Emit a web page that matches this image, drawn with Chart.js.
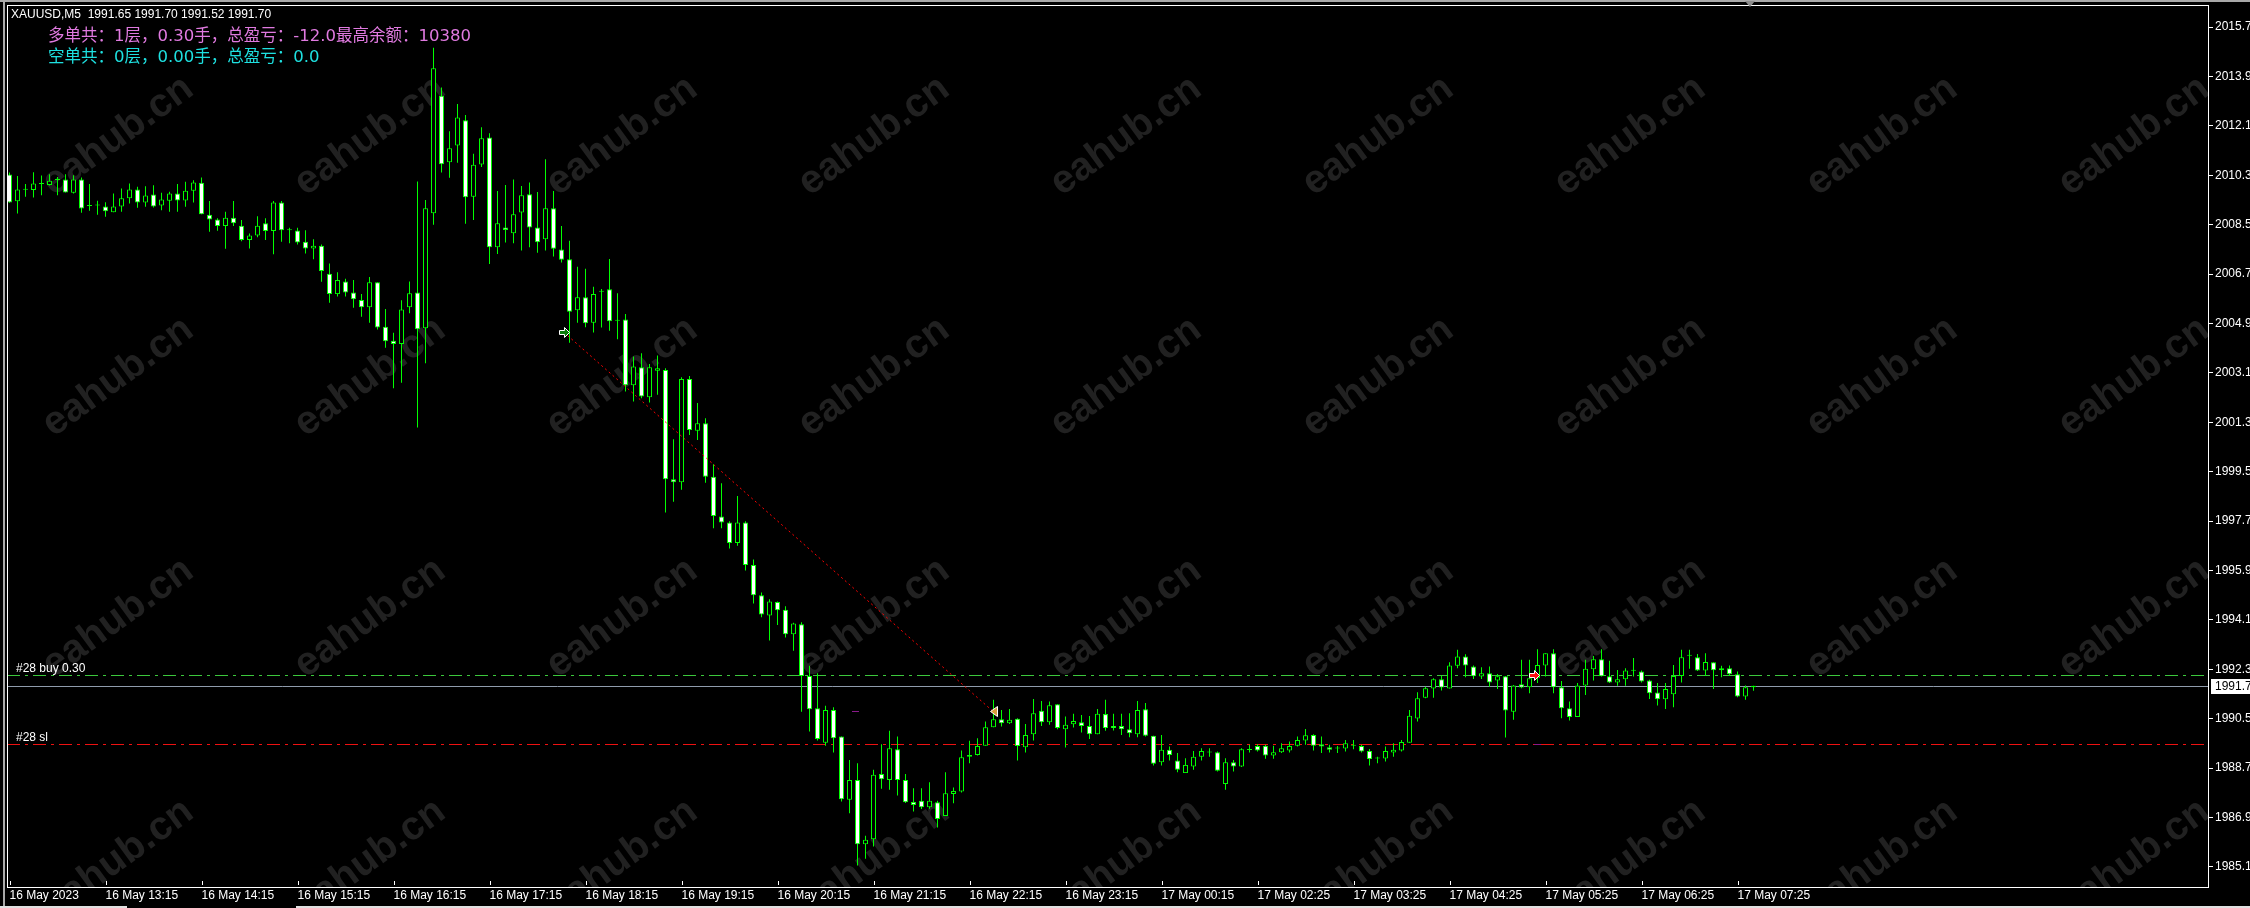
<!DOCTYPE html>
<html>
<head>
<meta charset="utf-8">
<title>XAUUSD,M5</title>
<script src="https://cdn.jsdelivr.net/npm/chart.js@4.4.0/dist/chart.umd.min.js"></script>
<style>
  html, body { margin: 0; padding: 0; background: #000; overflow: hidden; }
  canvas { display: block; }
</style>
</head>
<body>
<canvas id="xauChart" width="2250" height="908"></canvas>
<script>
// XAUUSD M5 bars (bar 0 = 16 May 12:15)
const opens = [
  2010.33, 2009.35, 2009.77, 2009.76, 2009.98, 2009.95, 2010.13, 2010.15, 2009.66, 2010.15, 2009.18, 2009.20,
  2009.16, 2008.95, 2009.16, 2009.46, 2009.78, 2009.31, 2009.60, 2009.20, 2009.37, 2009.64, 2009.38, 2009.74,
  2010.03, 2008.86, 2008.69, 2008.45, 2008.75, 2008.46, 2007.94, 2008.11, 2008.55, 2008.27, 2009.31, 2008.30,
  2008.29, 2007.88, 2007.63, 2007.73, 2006.71, 2005.97, 2006.43, 2006.03, 2005.76, 2005.49, 2006.40, 2004.78,
  2004.27, 2004.15, 2005.49, 2006.03, 2004.73, 2008.92, 2013.20, 2010.77, 2011.38, 2012.30, 2009.52, 2010.69,
  2011.68, 2007.68, 2008.40, 2008.19, 2008.94, 2009.61, 2008.40, 2007.97, 2009.10, 2007.60, 2007.24, 2005.38,
  2005.86, 2004.93, 2006.06, 2006.15, 2005.00, 2005.05, 2002.65, 2003.31, 2002.21, 2003.18, 2003.21, 1999.23,
  1999.12, 2002.88, 2000.99, 2001.27, 1999.32, 1997.87, 1997.65, 1996.90, 1997.65, 1996.10, 1995.00, 1994.26,
  1994.75, 1994.47, 1993.58, 1993.94, 1992.06, 1990.88, 1989.63, 1990.82, 1989.85, 1987.55, 1988.27, 1985.93,
  1986.11, 1988.49, 1988.27, 1989.39, 1988.27, 1987.47, 1987.51, 1987.28, 1987.46, 1986.96, 1987.76, 1987.85,
  1989.12, 1989.18, 1989.52, 1990.19, 1990.48, 1990.34, 1990.50, 1989.46, 1989.94, 1990.79, 1990.37, 1991.03,
  1990.12, 1990.30, 1990.37, 1990.24, 1989.94, 1990.67, 1990.24, 1990.24, 1990.12, 1989.94, 1990.85, 1989.88,
  1988.92, 1989.37, 1988.98, 1988.52, 1988.76, 1989.12, 1989.27, 1989.28, 1988.12, 1988.92, 1988.76, 1989.36,
  1989.51, 1989.52, 1989.16, 1989.28, 1989.34, 1989.52, 1989.71, 1989.91, 1989.57, 1989.46, 1989.42, 1989.42,
  1989.52, 1989.51, 1989.33, 1989.05, 1989.05, 1989.27, 1989.34, 1989.63, 1990.51, 1991.27, 1991.60, 1991.94,
  1991.60, 1992.43, 1992.77, 1992.40, 1992.04, 1992.16, 1991.89, 1992.05, 1990.76, 1991.76, 1991.65, 1991.98,
  1992.44, 1992.89, 1991.65, 1990.88, 1990.56, 1991.71, 1992.30, 1992.67, 1992.05, 1991.82, 1991.94, 1992.25,
  1992.22, 1991.89, 1991.46, 1991.21, 1991.39, 1992.06, 1992.80, 1992.74, 1992.26, 1992.56, 1992.34, 1992.34,
  1992.12, 1991.31, 1991.65
];
const highs = [
  2010.40, 2010.27, 2009.98, 2010.41, 2010.29, 2010.34, 2010.24, 2010.34, 2010.30, 2010.22, 2009.98, 2009.37,
  2009.32, 2009.64, 2009.82, 2010.00, 2009.88, 2009.90, 2009.94, 2009.66, 2009.70, 2009.98, 2010.06, 2010.12,
  2010.22, 2009.36, 2008.73, 2008.97, 2009.36, 2008.67, 2008.18, 2008.81, 2008.73, 2009.36, 2009.36, 2008.39,
  2008.39, 2008.30, 2007.97, 2007.78, 2007.09, 2006.77, 2006.53, 2006.48, 2005.97, 2006.59, 2006.40, 2005.43,
  2004.56, 2005.75, 2006.43, 2010.07, 2009.40, 2014.95, 2013.50, 2011.90, 2012.90, 2012.50, 2011.08, 2012.05,
  2011.83, 2009.73, 2009.95, 2010.15, 2009.91, 2010.04, 2009.69, 2010.88, 2009.73, 2008.45, 2007.91, 2006.97,
  2006.89, 2006.24, 2006.16, 2007.25, 2006.00, 2005.25, 2003.70, 2003.82, 2003.42, 2003.73, 2003.27, 2000.68,
  2002.94, 2002.99, 2002.00, 2001.45, 1999.77, 1999.08, 1997.70, 1998.62, 1997.70, 1996.30, 1995.10, 1994.85,
  1994.77, 1994.60, 1994.00, 1994.02, 1992.43, 1992.16, 1990.97, 1990.92, 1989.85, 1989.00, 1988.88, 1986.24,
  1988.64, 1989.57, 1990.06, 1989.85, 1988.49, 1987.97, 1987.97, 1988.19, 1987.51, 1988.55, 1988.00, 1989.34,
  1989.70, 1989.79, 1990.40, 1991.19, 1990.82, 1990.86, 1990.52, 1990.31, 1991.22, 1991.15, 1991.13, 1991.03,
  1990.58, 1990.68, 1990.64, 1990.60, 1990.86, 1991.19, 1990.68, 1990.68, 1990.70, 1991.15, 1991.07, 1989.88,
  1989.91, 1989.49, 1989.25, 1989.06, 1989.33, 1989.43, 1989.43, 1989.31, 1989.06, 1989.00, 1989.43, 1989.55,
  1989.57, 1989.55, 1989.52, 1989.61, 1989.67, 1989.85, 1990.13, 1989.94, 1989.85, 1989.55, 1989.51, 1989.73,
  1989.73, 1989.55, 1989.40, 1989.12, 1989.49, 1989.61, 1989.73, 1990.82, 1991.47, 1991.67, 1991.98, 1992.06,
  1992.56, 1993.01, 1992.85, 1992.44, 1992.38, 1992.40, 1992.13, 1992.06, 1991.73, 1992.65, 1992.65, 1993.03,
  1992.89, 1993.03, 1991.88, 1991.13, 1991.80, 1992.65, 1992.79, 1993.03, 1992.61, 1992.28, 1992.34, 1992.71,
  1992.26, 1991.92, 1991.80, 1991.80, 1992.46, 1993.01, 1993.01, 1992.86, 1992.89, 1992.56, 1992.43, 1992.44,
  1992.22, 1991.71, 1991.70
];
const lows = [
  2009.30, 2008.91, 2009.52, 2009.49, 2009.57, 2009.93, 2009.57, 2009.67, 2009.64, 2008.93, 2009.01, 2008.86,
  2008.79, 2008.95, 2008.97, 2009.27, 2009.12, 2009.15, 2009.13, 2009.03, 2008.97, 2008.97, 2009.15, 2009.31,
  2008.88, 2008.24, 2008.28, 2007.62, 2008.45, 2007.90, 2007.63, 2008.04, 2007.94, 2007.42, 2007.88, 2007.82,
  2007.78, 2007.45, 2007.24, 2006.42, 2005.66, 2005.88, 2005.88, 2005.47, 2005.15, 2004.93, 2004.68, 2004.02,
  2002.54, 2002.74, 2005.27, 2001.11, 2003.45, 2008.50, 2010.40, 2010.21, 2010.76, 2008.53, 2008.67, 2010.60,
  2007.07, 2007.43, 2007.85, 2007.82, 2007.56, 2007.68, 2007.48, 2007.56, 2007.34, 2007.12, 2004.20, 2004.93,
  2004.76, 2004.57, 2004.75, 2004.64, 2004.33, 2002.42, 2002.06, 2002.18, 2002.02, 2002.30, 1998.01, 1998.41,
  1998.84, 2000.84, 2000.66, 1999.10, 1997.44, 1997.44, 1996.70, 1996.80, 1995.90, 1994.70, 1994.20, 1993.35,
  1993.92, 1993.46, 1992.98, 1990.76, 1990.04, 1989.71, 1989.52, 1989.27, 1987.49, 1987.06, 1985.15, 1985.40,
  1985.85, 1987.95, 1987.91, 1987.70, 1987.43, 1987.12, 1987.21, 1987.22, 1986.54, 1986.96, 1987.42, 1987.81,
  1988.88, 1989.16, 1989.52, 1990.19, 1990.22, 1990.31, 1988.98, 1989.27, 1989.71, 1990.24, 1990.28, 1990.12,
  1989.45, 1990.18, 1990.00, 1989.76, 1989.94, 1990.06, 1990.07, 1989.91, 1989.83, 1989.83, 1989.85, 1988.80,
  1988.80, 1988.98, 1988.55, 1988.52, 1988.64, 1988.98, 1989.12, 1988.58, 1987.91, 1988.58, 1988.74, 1989.27,
  1989.31, 1989.04, 1989.04, 1989.25, 1989.27, 1989.49, 1989.55, 1989.34, 1989.25, 1989.27, 1989.25, 1989.31,
  1989.39, 1989.27, 1988.80, 1988.88, 1988.94, 1989.12, 1989.31, 1989.63, 1990.40, 1991.25, 1991.27, 1991.53,
  1991.60, 1992.34, 1992.01, 1991.95, 1991.95, 1991.67, 1991.58, 1989.82, 1990.46, 1991.61, 1991.43, 1991.80,
  1992.04, 1991.43, 1990.52, 1990.44, 1990.56, 1991.37, 1991.89, 1992.04, 1991.80, 1991.70, 1991.70, 1992.04,
  1991.82, 1991.22, 1990.98, 1990.86, 1990.92, 1991.82, 1992.32, 1992.24, 1992.06, 1991.58, 1992.01, 1992.06,
  1991.28, 1991.19, 1991.52
];
const closes = [
  2009.31, 2009.78, 2009.77, 2010.00, 2010.00, 2010.10, 2010.13, 2009.67, 2010.15, 2009.09, 2009.18, 2009.20,
  2008.99, 2009.16, 2009.46, 2009.78, 2009.31, 2009.56, 2009.16, 2009.42, 2009.64, 2009.38, 2009.74, 2010.04,
  2008.88, 2008.69, 2008.45, 2008.75, 2008.55, 2007.94, 2008.11, 2008.46, 2008.27, 2009.31, 2008.30, 2008.30,
  2007.85, 2007.63, 2007.73, 2006.81, 2005.97, 2006.48, 2006.03, 2005.78, 2005.49, 2006.40, 2004.75, 2004.25,
  2004.15, 2005.41, 2006.00, 2004.69, 2009.10, 2014.20, 2010.70, 2011.28, 2012.40, 2009.50, 2010.68, 2011.65,
  2007.68, 2008.55, 2008.31, 2008.88, 2009.57, 2008.40, 2007.86, 2009.10, 2007.62, 2007.22, 2005.33, 2005.86,
  2004.91, 2005.97, 2006.06, 2004.98, 2005.00, 2002.65, 2003.33, 2002.24, 2003.31, 2003.27, 1999.23, 1999.12,
  2002.88, 2001.02, 2001.27, 1999.32, 1997.89, 1997.65, 1996.90, 1997.65, 1996.10, 1995.00, 1994.30, 1994.77,
  1994.45, 1993.58, 1993.97, 1992.06, 1990.85, 1989.76, 1990.82, 1989.79, 1987.57, 1988.27, 1985.93, 1986.09,
  1988.46, 1988.30, 1989.43, 1988.27, 1987.46, 1987.36, 1987.28, 1987.51, 1986.85, 1987.79, 1987.87, 1989.10,
  1989.18, 1989.51, 1990.19, 1990.48, 1990.34, 1990.46, 1989.51, 1989.91, 1990.70, 1990.37, 1990.99, 1990.16,
  1990.28, 1990.42, 1990.24, 1989.94, 1990.68, 1990.16, 1990.16, 1990.12, 1989.97, 1990.82, 1989.88, 1988.86,
  1989.37, 1989.18, 1988.64, 1988.82, 1989.12, 1989.33, 1989.28, 1988.61, 1988.92, 1988.76, 1989.39, 1989.36,
  1989.34, 1989.16, 1989.28, 1989.43, 1989.51, 1989.73, 1989.90, 1989.52, 1989.49, 1989.37, 1989.42, 1989.61,
  1989.52, 1989.31, 1989.03, 1989.05, 1989.33, 1989.37, 1989.65, 1990.61, 1991.25, 1991.61, 1991.94, 1991.64,
  1992.44, 1992.77, 1992.44, 1992.05, 1992.16, 1991.82, 1992.05, 1990.80, 1991.71, 1991.64, 1991.98, 1992.46,
  1992.89, 1991.65, 1990.88, 1990.56, 1991.71, 1992.32, 1992.67, 1992.05, 1991.82, 1991.94, 1992.26, 1992.25,
  1991.86, 1991.43, 1991.21, 1991.58, 1992.06, 1992.74, 1992.80, 1992.26, 1992.57, 1992.27, 1992.27, 1992.12,
  1991.31, 1991.65, 1991.70
];

// time axis: one label every 12 bars
const timeTickIdx = [0, 12, 24, 36, 48, 60, 72, 84, 96, 108, 120, 132, 144, 156, 168, 180, 192, 204, 216];
const timeLabels = ['16 May 2023', '16 May 13:15', '16 May 14:15', '16 May 15:15', '16 May 16:15',
  '16 May 17:15', '16 May 18:15', '16 May 19:15', '16 May 20:15', '16 May 21:15', '16 May 22:15',
  '16 May 23:15', '17 May 00:15', '17 May 02:25', '17 May 03:25', '17 May 04:25', '17 May 05:25',
  '17 May 06:25', '17 May 07:25'];
const priceTicks = [1985.10, 1986.90, 1988.70, 1990.50, 1992.30, 1994.10, 1995.90, 1997.70, 1999.50,
  2001.30, 2003.10, 2004.90, 2006.70, 2008.50, 2010.30, 2012.10, 2013.90, 2015.70];

// order levels and trade marks
const buyLevel = 1992.08;
const slLevel = 1989.57;
const bidPrice = closes[closes.length - 1];
const tradeLineX = [69.3, 122.9];
const tradeLineY = [2004.58, 1990.78];
const openArrowX = [190.5];
const openArrowY = [1992.09];
const stubX = [105.7, 190.9];
const stubY = [1990.78, 1989.57];

const FONT = '"Liberation Sans", Arial, sans-serif';
const INFO_FONT = '16.5px "DejaVu Sans", "Noto Sans CJK SC", sans-serif';
const CANDLE = '#00ff00';

const wickData = opens.map((o, i) => ({x: i, y: [lows[i], highs[i]]}));
const bodyData = opens.map((o, i) => ({x: i, y: [Math.min(o, closes[i]), Math.max(o, closes[i])]}));
const bodyFill = opens.map((o, i) => closes[i] < o ? '#ffffff' : '#000000');

function hline(ctx, area, py, color, dash) {
    const yy = Math.round(py) + 0.5;
    ctx.save();
    ctx.strokeStyle = color;
    ctx.lineWidth = 1;
    ctx.setLineDash(dash);
    ctx.beginPath();
    ctx.moveTo(area.left, yy);
    ctx.lineTo(area.right, yy);
    ctx.stroke();
    ctx.restore();
}

function arrowRight(ctx, px, py, fill) {
    ctx.save();
    ctx.translate(Math.round(px) + 0.5, Math.round(py) + 0.5);
    ctx.beginPath();
    ctx.moveTo(-5, -2); ctx.lineTo(0, -2); ctx.lineTo(0, -5); ctx.lineTo(5, 0);
    ctx.lineTo(0, 5); ctx.lineTo(0, 2); ctx.lineTo(-5, 2); ctx.closePath();
    ctx.fillStyle = fill; ctx.fill();
    ctx.strokeStyle = '#ffffff'; ctx.lineWidth = 1; ctx.stroke();
    ctx.restore();
}

const mtDecor = {
    id: 'mtDecor',
    beforeDraw(chart) {
        const ctx = chart.ctx;
        ctx.save();
        ctx.fillStyle = '#000';
        ctx.fillRect(0, 0, chart.width, chart.height);
        ctx.restore();
    },
    beforeDatasetsDraw(chart) {
        const {ctx, chartArea: a, scales: {y}} = chart;
        ctx.save();
        ctx.beginPath();
        ctx.rect(a.left, a.top, a.width, a.height);
        ctx.clip();
        // watermark grid
        ctx.fillStyle = '#212121';
        ctx.font = 'bold 40px ' + FONT;
        ctx.textAlign = 'center';
        ctx.textBaseline = 'middle';
        for (let r = 0; r < 4; r++) {
            for (let c = 0; c < 9; c++) {
                ctx.save();
                ctx.translate(118 + 252 * c, 136 + 241 * r);
                ctx.rotate(-36 * Math.PI / 180);
                ctx.fillText('eahub.cn', 0, 0);
                ctx.restore();
            }
        }
        hline(ctx, a, y.getPixelForValue(bidPrice), '#8f9bab', []);
        hline(ctx, a, y.getPixelForValue(buyLevel), '#3cc83c', [13, 5, 3, 5]);
        hline(ctx, a, y.getPixelForValue(slLevel), '#ee1111', [13, 5, 3, 5]);
        ctx.restore();
    },
    afterDatasetsDraw(chart) {
        const {ctx, scales: {x, y}} = chart;
        ctx.save();
        // small order stubs
        ctx.fillStyle = '#8a1a8a';
        stubX.forEach((v, k) => {
            ctx.fillRect(Math.round(x.getPixelForValue(v)) - 3, Math.round(y.getPixelForValue(stubY[k])), 7, 1);
        });
        // open of the closed trade and its close marker
        arrowRight(ctx, x.getPixelForValue(tradeLineX[0]), y.getPixelForValue(tradeLineY[0]), '#0a7a0a');
        const cx = Math.round(x.getPixelForValue(tradeLineX[1])) + 0.5;
        const cy = Math.round(y.getPixelForValue(tradeLineY[1])) + 0.5;
        ctx.beginPath();
        ctx.moveTo(cx + 4, cy - 5); ctx.lineTo(cx - 3, cy); ctx.lineTo(cx + 4, cy + 5); ctx.closePath();
        ctx.fillStyle = '#d89a3a'; ctx.fill();
        ctx.strokeStyle = '#ffffff'; ctx.stroke();
        // open of order #28
        openArrowX.forEach((v, k) => arrowRight(ctx, x.getPixelForValue(v), y.getPixelForValue(openArrowY[k]), '#ff1010'));
        ctx.restore();
    },
    afterDraw(chart) {
        const {ctx, chartArea: a, scales: {x, y}} = chart;
        ctx.save();
        // window frame
        ctx.fillStyle = '#a8a8a8';
        ctx.fillRect(0, 0, chart.width, 2);
        ctx.fillRect(3, 0, 2, chart.height);
        ctx.fillStyle = '#e0e0e0';
        ctx.fillRect(0, chart.height - 2, 127, 2);
        ctx.fillRect(296, chart.height - 2, chart.width - 296, 2);
        // plot border
        ctx.strokeStyle = '#ffffff';
        ctx.lineWidth = 1;
        ctx.strokeRect(a.left + 0.5, a.top + 0.5, a.width - 1, a.height);
        // time tick marks
        ctx.beginPath();
        x.ticks.forEach(t => {
            const px = Math.round(x.getPixelForValue(t.value)) + 0.5;
            ctx.moveTo(px, a.bottom - 6);
            ctx.lineTo(px, a.bottom - 2);
        });
        ctx.stroke();
        // chart shift marker
        const sx = Math.round(x.getPixelForValue(opens.length - 1.5));
        ctx.fillStyle = '#8c8c8c';
        ctx.beginPath();
        ctx.moveTo(sx - 5, 1); ctx.lineTo(sx + 5, 1); ctx.lineTo(sx, 7); ctx.closePath();
        ctx.fill();
        // bid price box
        const by = Math.round(y.getPixelForValue(bidPrice));
        ctx.fillStyle = '#ffffff';
        ctx.fillRect(a.right + 2, by - 7, chart.width - a.right - 2, 15);
        ctx.fillStyle = '#000000';
        ctx.font = '12px ' + FONT;
        ctx.textBaseline = 'middle';
        ctx.textAlign = 'left';
        ctx.fillText(bidPrice.toFixed(2), a.right + 6, by + 1);
        // header and order labels
        ctx.fillStyle = '#ffffff';
        ctx.fillText('XAUUSD,M5  ' + [opens, highs, lows, closes].map(s => s[s.length - 1].toFixed(2)).join(' '), 11, 15);
        ctx.textBaseline = 'alphabetic';
        ctx.fillText('#28 buy 0.30', 16, Math.round(y.getPixelForValue(buyLevel)) - 3);
        ctx.fillText('#28 sl', 16, Math.round(y.getPixelForValue(slLevel)) - 3);
        ctx.font = INFO_FONT;
        ctx.textBaseline = 'middle';
        ctx.fillStyle = '#e07ae0';
        ctx.fillText('多单共：1层，0.30手，总盈亏：-12.0最高余额：10380', 48, 37);
        ctx.fillStyle = '#1ee0e0';
        ctx.fillText('空单共：0层，0.00手，总盈亏：0.0', 48, 58);
        ctx.restore();
    }
};

const chartEl = document.getElementById('xauChart');

new Chart(chartEl, {
    type: 'bar',
    data: {
        datasets: [
            {
                type: 'line',
                label: 'trade',
                data: tradeLineX.map((v, k) => ({x: v, y: tradeLineY[k]})),
                borderColor: '#ff0000',
                borderWidth: 1,
                borderDash: [2, 3],
                pointRadius: 0,
                order: 0
            },
            {
                label: 'wick',
                data: wickData,
                backgroundColor: CANDLE,
                borderWidth: 0,
                barThickness: 1,
                grouped: false,
                inflateAmount: 0,
                order: 2
            },
            {
                label: 'body',
                data: bodyData,
                backgroundColor: bodyFill,
                borderColor: CANDLE,
                borderWidth: 1,
                borderSkipped: false,
                barThickness: 5,
                minBarLength: 1,
                grouped: false,
                inflateAmount: 0,
                order: 1
            }
        ]
    },
    options: {
        responsive: false,
        animation: false,
        devicePixelRatio: 1,
        layout: { padding: { left: 7, top: 5, right: 0, bottom: 0 } },
        plugins: {
            legend: { display: false },
            tooltip: { enabled: false }
        },
        scales: {
            x: {
                type: 'linear',
                min: -0.3125,
                max: 274.9375,
                offset: false,
                position: 'bottom',
                grid: { display: false, drawTicks: false },
                border: { display: false },
                afterBuildTicks: s => { s.ticks = timeTickIdx.map(v => ({value: v})); },
                afterFit: s => { s.height = 21; s.paddingLeft = 0; s.paddingRight = 0; },
                ticks: {
                    autoSkip: false,
                    maxRotation: 0,
                    minRotation: 0,
                    align: 'start',
                    padding: 1,
                    color: '#ffffff',
                    font: { family: FONT, size: 12 },
                    callback: v => timeLabels[timeTickIdx.indexOf(v)]
                }
            },
            y: {
                position: 'right',
                min: 1984.371,
                max: 2016.503,
                grid: { display: true, drawOnChartArea: false, drawTicks: true, tickLength: 4, color: '#ffffff' },
                border: { display: false },
                afterBuildTicks: s => { s.ticks = priceTicks.map(v => ({value: v})); },
                afterFit: s => { s.width = 41; s.paddingTop = 0; s.paddingBottom = 0; },
                ticks: {
                    padding: 2,
                    color: '#ffffff',
                    font: { family: FONT, size: 12 },
                    callback: v => v.toFixed(2)
                }
            }
        }
    },
    plugins: [mtDecor]
});
</script>
</body>
</html>
